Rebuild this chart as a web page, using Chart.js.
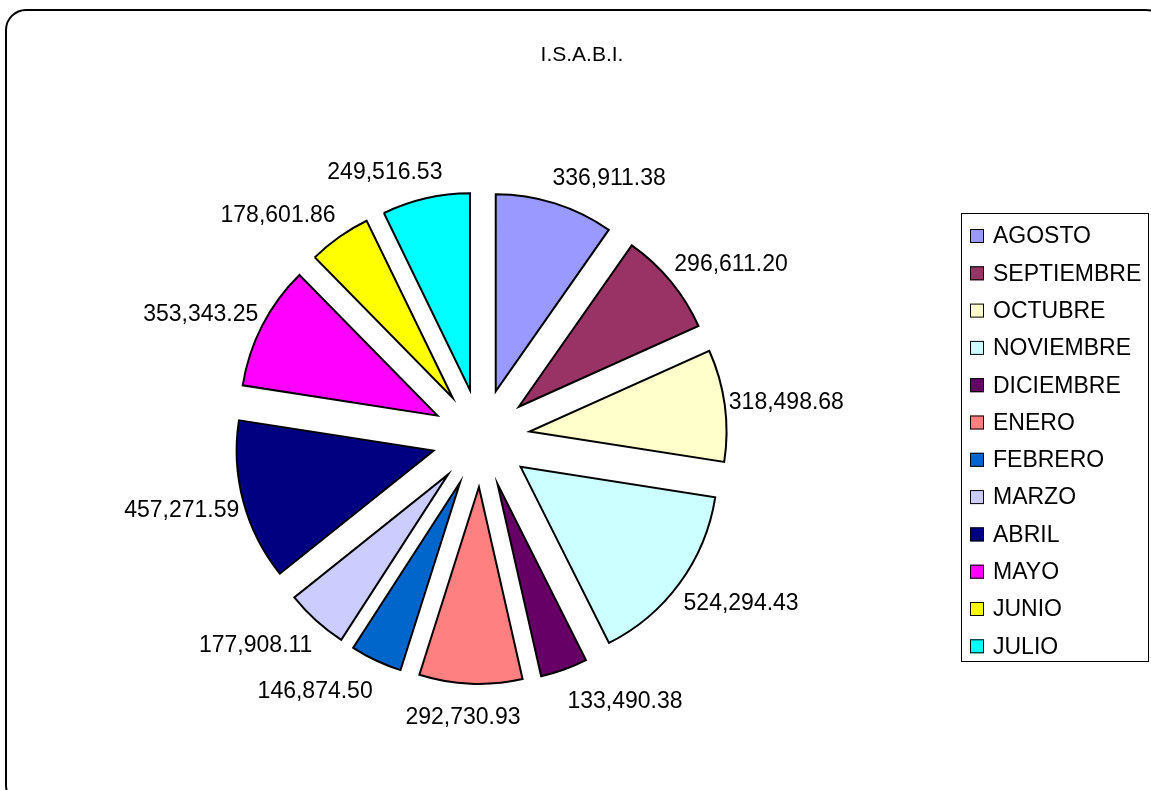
<!DOCTYPE html>
<html>
<head>
<meta charset="utf-8">
<title>I.S.A.B.I.</title>
<script src="https://cdn.jsdelivr.net/npm/chart.js@4/dist/chart.umd.min.js"></script>
<style>
  html, body { margin: 0; padding: 0; background: #fff; overflow: hidden; }
  canvas { display: block; }
</style>
</head>
<body>
<canvas id="myChart" width="1151" height="790"></canvas>
<script>
// months, starting at 12 o'clock and going clockwise
var meses = ['AGOSTO', 'SEPTIEMBRE', 'OCTUBRE', 'NOVIEMBRE', 'DICIEMBRE', 'ENERO',
             'FEBRERO', 'MARZO', 'ABRIL', 'MAYO', 'JUNIO', 'JULIO'];
var importes = [336911.38, 296611.20, 318498.68, 524294.43, 133490.38, 292730.93,
                146874.50, 177908.11, 457271.59, 353343.25, 178601.86, 249516.53];
var colores = ['#9999FF', '#993366', '#FFFFCC', '#CCFFFF', '#660066', '#FF8080',
               '#0066CC', '#CCCCFF', '#000080', '#FF00FF', '#FFFF00', '#00FFFF'];
var titulo = 'I.S.A.B.I.';

var FONT = 'Arial, "Liberation Sans", sans-serif';
var EXPLODE = 49;   // distance each slice is pulled out

function fmt(v) {
  return v.toLocaleString('en-US', {minimumFractionDigits: 2, maximumFractionDigits: 2});
}

// frame, title, exploded slices, value labels and the boxed legend
var excelPie = {
  id: 'excelPie',
  beforeDraw: function(chart) {
    var ctx = chart.ctx;
    ctx.save();
    ctx.fillStyle = '#fff';
    ctx.fillRect(0, 0, chart.width, chart.height);
    ctx.strokeStyle = '#000';
    ctx.lineWidth = 2;
    ctx.beginPath();
    ctx.roundRect(6, 10, 1160, 795, 20);
    ctx.stroke();
    ctx.fillStyle = '#000';
    ctx.font = '21px ' + FONT;
    ctx.textAlign = 'center';
    ctx.textBaseline = 'middle';
    ctx.fillText(titulo, 582, 55);
    ctx.restore();
  },
  beforeDatasetsDraw: function(chart) {
    var area = chart.chartArea;
    var cx = (area.left + area.right) / 2;
    var cy = (area.top + area.bottom) / 2;
    chart.getDatasetMeta(0).data.forEach(function(arc) {
      var mid = (arc.startAngle + arc.endAngle) / 2;
      arc.x = cx + EXPLODE * Math.cos(mid);
      arc.y = cy + EXPLODE * Math.sin(mid);
    });
  },
  afterDatasetsDraw: function(chart) {
    var ctx = chart.ctx;
    var meta = chart.getDatasetMeta(0);
    ctx.save();
    ctx.fillStyle = '#000';
    ctx.font = '23px ' + FONT;
    ctx.textAlign = 'center';
    ctx.textBaseline = 'middle';
    meta.data.forEach(function(arc, i) {
      var mid = (arc.startAngle + arc.endAngle) / 2;
      var s = Math.cos(mid), c = -Math.sin(mid); // s: rightwards, c: upwards
      var txt = fmt(importes[i]);
      var w = ctx.measureText(txt).width;
      var r = arc.outerRadius + 1;
      var px = arc.x + r * Math.cos(mid);
      var py = arc.y + r * Math.sin(mid);
      var k = Math.max(-1, Math.min(1, 3 * s));
      var dy = c > 0 ? 26 : 32;
      ctx.fillText(txt, px + k * (w / 2 + 3), py - dy * c + 1);
    });
    ctx.restore();

    // legend
    ctx.save();
    ctx.strokeStyle = '#000';
    ctx.lineWidth = 1;
    ctx.strokeRect(961.5, 213.5, 187, 448);
    ctx.font = '23px ' + FONT;
    ctx.textAlign = 'left';
    ctx.textBaseline = 'middle';
    chart.data.labels.forEach(function(lab, i) {
      var y = 236 + i * 37.3;
      ctx.fillStyle = chart.data.datasets[0].backgroundColor[i];
      ctx.fillRect(970, y - 7, 14, 14);
      ctx.strokeRect(970.5, y - 6.5, 13, 13);
      ctx.fillStyle = '#000';
      ctx.fillText(lab, 993, y + 1);
    });
    ctx.restore();
  }
};

var ctx = document.getElementById('myChart');
var myChart = new Chart(ctx, {
  type: 'pie',
  data: {
    labels: meses,
    datasets: [{
      label: titulo,
      data: importes,
      backgroundColor: colores,
      borderColor: '#000',
      borderWidth: 2,
      borderJoinStyle: 'miter',
      hoverOffset: 0
    }]
  },
  options: {
    responsive: false,
    animation: false,
    radius: 197,
    layout: { padding: { left: 0, right: 189, top: 86, bottom: 0 } },
    plugins: {
      legend: { display: false },
      title: { display: false },
      tooltip: { enabled: false }
    },
    events: []
  },
  plugins: [excelPie]
});
</script>
</body>
</html>
